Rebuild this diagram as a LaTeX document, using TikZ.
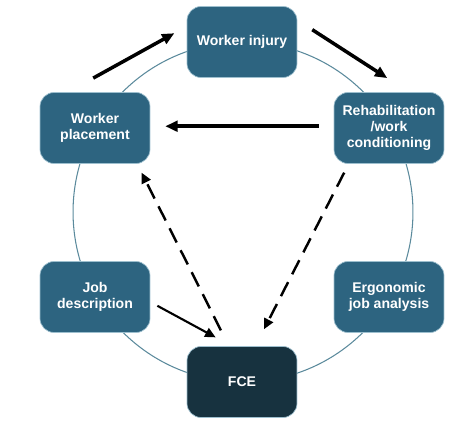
\documentclass[tikz,border=0pt]{standalone}
\usepackage{fontspec}
\setmainfont{Liberation Sans}
\usetikzlibrary{arrows.meta}

\definecolor{boxblue}{HTML}{2D6480}
\definecolor{boxdark}{HTML}{17323F}
\definecolor{boxedge}{HTML}{9DBFCE}
\definecolor{ringline}{HTML}{5B8A9C}

\begin{document}
\begin{tikzpicture}[x=0.02cm,y=-0.02cm]
\tikzstyle{stage}=[rounded corners=8pt,minimum width=2.2cm,minimum height=1.42cm,fill=boxblue,draw=boxedge,line width=0.4pt,text=white,font=\fontsize{8}{9.2}\selectfont\bfseries,align=center];
\tikzstyle{test}=[stage,fill=boxdark];
\tikzstyle{flow}=[-{Triangle[length=7pt,width=6pt]},line width=2pt];
\tikzstyle{check}=[-{Triangle[length=6pt,width=5.5pt]},line width=1.4pt,dash pattern=on 9pt off 5pt];
\tikzstyle{feed}=[-{Triangle[length=6pt,width=5.5pt]},line width=1.2pt];
\useasboundingbox (0,0) rectangle (474,432);
\draw [ringline,line width=0.6pt] (243,212) circle [radius=3.4cm];

\node [stage] (injury) at (242,42) {Worker injury};
\node [stage] (placement) at (95,128) {Worker\\placement};
\node [stage] (rehab) at (389,128) {Rehabilitation\\/work\\conditioning};
\node [stage] (job) at (95,297) {Job\\description};
\node [stage] (ergo) at (389,297) {Ergonomic\\job analysis};
\node [test] (fce) at (242,382) {FCE};

\draw [flow] ([shift={(-1pt,8pt)}]placement.north) -- ([shift={(-7pt,5pt)}]injury.west);
\draw [flow] ([shift={(8.5pt,7pt)}]injury.east) -- ([shift={(-1pt,8pt)}]rehab.north);
\draw [flow] ([shift={(-8.5pt,1pt)}]rehab.west) -- ([shift={(8.5pt,1pt)}]placement.east);

\draw [check] ([shift={(-12pt,9pt)}]fce.north) -- ([shift={(-5pt,-5pt)}]placement.south east);
\draw [check] ([shift={(6pt,-5pt)}]rehab.south west) -- ([shift={(12.5pt,9.6pt)}]fce.north);
\draw [feed] ([shift={(4pt,-5pt)}]job.east) -- ([shift={(-15pt,5pt)}]fce.north);
\end{tikzpicture}
\end{document}
